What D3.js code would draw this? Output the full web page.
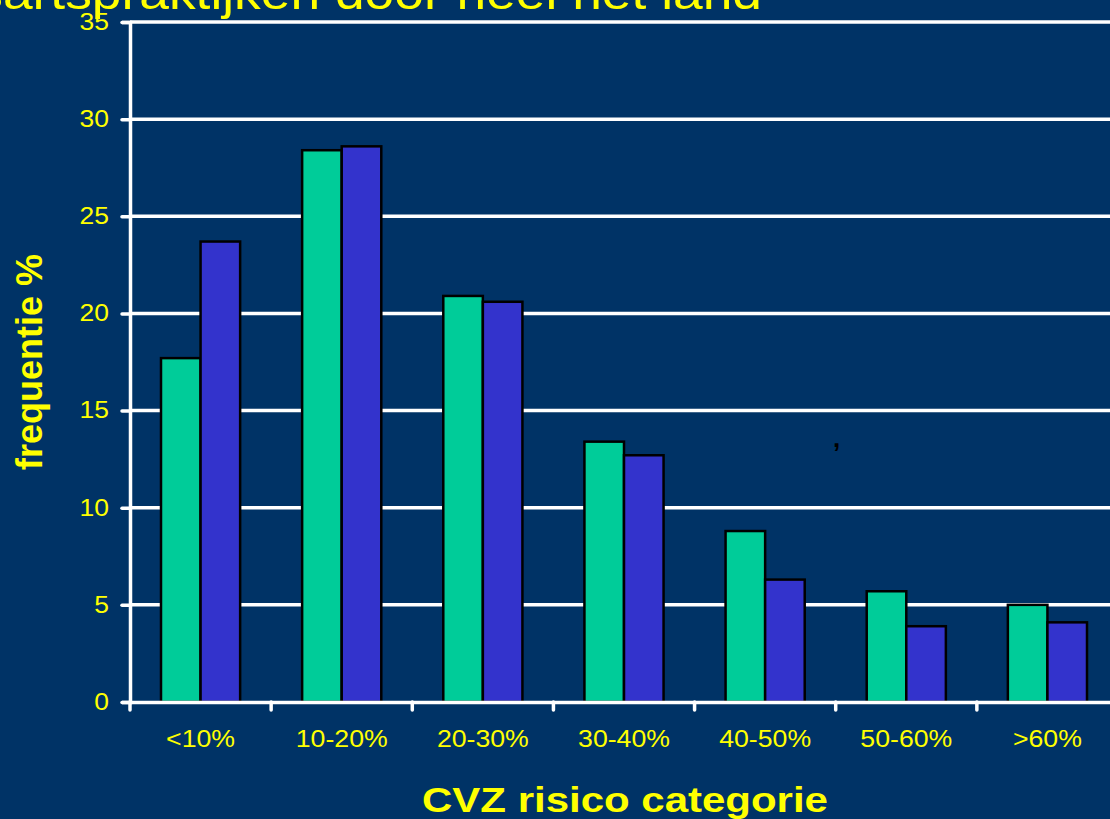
<!DOCTYPE html>
<html>
<head>
<meta charset="utf-8">
<script src="https://cdn.jsdelivr.net/npm/d3@7"></script>
<style>
  body { margin: 0; background: #003366; }
  svg { display: block; }
</style>
</head>
<body>
<div id="chart"></div>
<script>
// values
var categories = ["<10%", "10-20%", "20-30%", "30-40%", "40-50%", "50-60%", ">60%"];
var seriesA = [17.7, 28.4, 20.9, 13.4, 8.8, 5.7, 5.0];   // green
var seriesB = [23.7, 28.6, 20.6, 12.7, 6.3, 3.9, 4.1];   // blue
var yTicks = [0, 5, 10, 15, 20, 25, 30, 35];

var width = 1110,
  height = 819,
  margin = { top: 22, right: -8, bottom: 117, left: 130 };

var font = "Liberation Sans, Arial, sans-serif";

var svg = d3
  .select("#chart")
  .append("svg")
  .attr("width", width)
  .attr("height", height)
  .style("background", "#003366");

var innerW = width - margin.left - margin.right,
  innerH = height - margin.top - margin.bottom;

var g = svg.append("g").attr("transform", `translate(${margin.left},${margin.top})`);

var x0 = d3.scaleBand().domain(categories).range([0, innerW]);
var x1 = d3.scaleBand().domain(["a", "b"]).range([31, x0.bandwidth() - 31]);
var y = d3.scaleLinear().domain([0, 35]).range([innerH, 0]);

// title (cut off at the top in the original)
svg
  .append("text")
  .attr("transform", "translate(762,9) scale(1.16,1)")
  .attr("text-anchor", "end")
  .attr("fill", "#ffff00")
  .attr("font-family", font)
  .attr("font-size", 46)
  .text("Huisartspraktijken door heel het land");

// gridlines
g.selectAll(".grid")
  .data(yTicks.filter((d) => d > 0))
  .enter()
  .append("line")
  .attr("x1", 0)
  .attr("x2", innerW)
  .attr("y1", (d) => y(d))
  .attr("y2", (d) => y(d))
  .attr("stroke", "#ffffff")
  .attr("stroke-width", 3.5);

// bars
var groups = g
  .selectAll(".cat")
  .data(categories.map((c, i) => ({ cat: c, a: seriesA[i], b: seriesB[i] })))
  .enter()
  .append("g")
  .attr("transform", (d) => `translate(${x0(d.cat)},0)`);

groups
  .append("rect")
  .attr("x", x1("a"))
  .attr("y", (d) => y(d.a))
  .attr("width", x1.bandwidth())
  .attr("height", (d) => innerH - y(d.a))
  .attr("fill", "#00cc99")
  .attr("stroke", "#000")
  .attr("stroke-width", 2.5);

groups
  .append("rect")
  .attr("x", x1("b"))
  .attr("y", (d) => y(d.b))
  .attr("width", x1.bandwidth())
  .attr("height", (d) => innerH - y(d.b))
  .attr("fill", "#3333cc")
  .attr("stroke", "#000")
  .attr("stroke-width", 2.5);

// y axis
var yAxis = g
  .append("g")
  .call(d3.axisLeft(y).tickValues(yTicks).tickSize(8).tickPadding(0));
yAxis.select(".domain").attr("stroke", "#fff").attr("stroke-width", 3.5);
yAxis.selectAll(".tick line").attr("stroke", "#fff").attr("stroke-width", 3.5).attr("stroke-linecap", "round");
yAxis
  .selectAll(".tick text")
  .attr("x", 0)
  .attr("transform", "translate(-21,0) scale(1.15,1)")
  .attr("fill", "#ffff00")
  .attr("font-family", font)
  .attr("font-size", 23);

// x axis
var xAxis = g
  .append("g")
  .attr("transform", `translate(0,${innerH})`)
  .call(d3.axisBottom(x0).tickSize(0).tickPadding(29).tickSizeOuter(0));
xAxis.select(".domain").attr("stroke", "#fff").attr("stroke-width", 3.5);
xAxis
  .selectAll(".tick text")
  .attr("transform", "scale(1.16,1)")
  .attr("fill", "#ffff00")
  .attr("font-family", font)
  .attr("font-size", 23);

// boundary ticks between categories
g.selectAll(".btick")
  .data(categories)
  .enter()
  .append("line")
  .attr("x1", (d) => x0(d))
  .attr("x2", (d) => x0(d))
  .attr("y1", innerH)
  .attr("y2", innerH + 8)
  .attr("stroke", "#fff")
  .attr("stroke-width", 3.5)
  .attr("stroke-linecap", "round");

// axis titles
svg
  .append("text")
  .attr("transform", "translate(625,812) scale(1.2,1)")
  .attr("text-anchor", "middle")
  .attr("fill", "#ffff00")
  .attr("font-family", font)
  .attr("font-weight", "bold")
  .attr("font-size", 35)
  .text("CVZ risico categorie");

svg
  .append("text")
  .attr("transform", "translate(42,362) rotate(-90)")
  .attr("text-anchor", "middle")
  .attr("fill", "#ffff00")
  .attr("font-family", font)
  .attr("font-weight", "bold")
  .attr("font-size", 36)
  .text("frequentie %");

// stray mark in the original
svg
  .append("text")
  .attr("x", 833)
  .attr("y", 447)
  .attr("fill", "#000")
  .attr("font-family", font)
  .attr("font-weight", "bold")
  .attr("font-size", 26)
  .text(",");
</script>
</body>
</html>
